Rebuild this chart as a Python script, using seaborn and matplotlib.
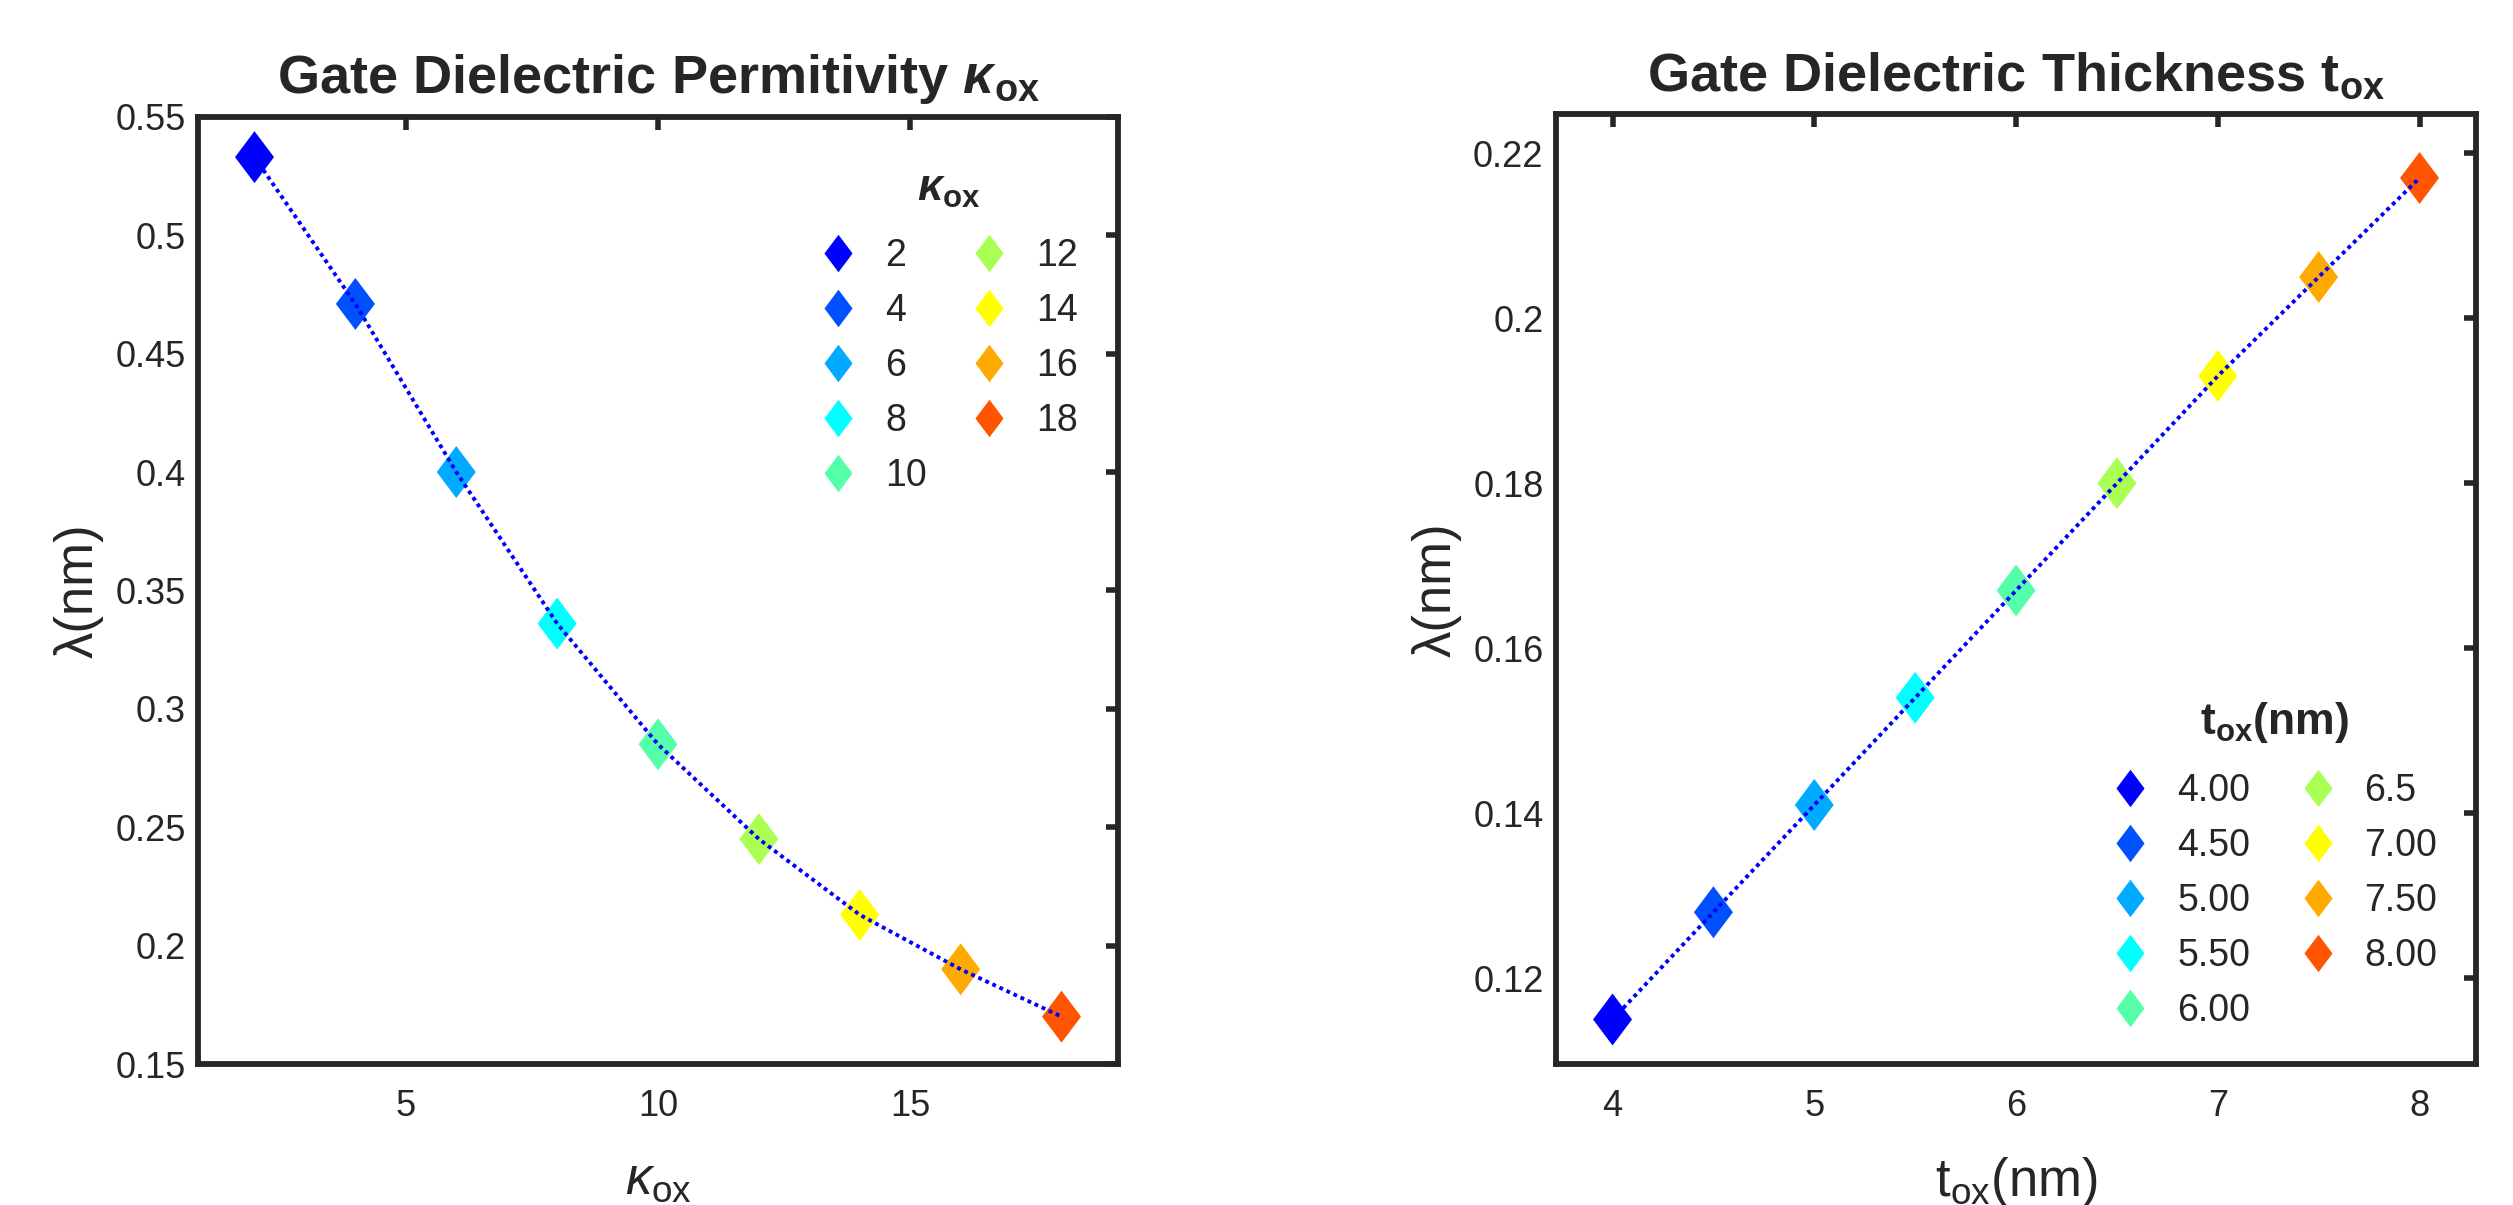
import matplotlib
matplotlib.use('Agg')
import matplotlib.pyplot as plt
from matplotlib.lines import Line2D
import seaborn as sns
import pandas as pd

# left panel: lambda vs gate dielectric permittivity
kappa_vals = [2, 4, 6, 8, 10, 12, 14, 16, 18]
kappa_lambda = [0.533, 0.471, 0.400, 0.336, 0.285, 0.245, 0.213, 0.190, 0.170]
kappa_labels = ["2", "4", "6", "8", "10", "12", "14", "16", "18"]

# right panel: lambda vs gate dielectric thickness
tox_vals = [4.0, 4.5, 5.0, 5.5, 6.0, 6.5, 7.0, 7.5, 8.0]
tox_lambda = [0.115, 0.128, 0.141, 0.154, 0.167, 0.180, 0.193, 0.205, 0.217]
tox_labels = ["4.00", "4.50", "5.00", "5.50", "6.00", "6.5", "7.00", "7.50", "8.00"]

point_colors = ["#0000FF", "#0050FF", "#00AAFF", "#00FFFF", "#55FFAA",
                "#AAFF55", "#FFFF00", "#FFAA00", "#FF5500"]

sns.set_style("white")
plt.rcParams['font.family'] = ['Liberation Sans', 'DejaVu Sans']
plt.rcParams['mathtext.fontset'] = 'custom'
plt.rcParams['mathtext.rm'] = 'Liberation Sans'
plt.rcParams['mathtext.it'] = 'Liberation Sans:italic'
plt.rcParams['mathtext.bf'] = 'Liberation Sans:bold'
plt.rcParams['mathtext.bfit'] = 'Liberation Sans:italic:bold'

DARK = "#262626"
diamond = [(-0.75, 0), (0, 1), (0.75, 0), (0, -1), (-0.75, 0)]

fig = plt.figure(figsize=(25.13, 12.05), dpi=100)
ax1 = fig.add_axes([0.0788, 0.117, 0.3661, 0.786])
ax2 = fig.add_axes([0.6192, 0.117, 0.3661, 0.788])


def draw_panel(ax, xs, ys, labels):
    df = pd.DataFrame({"x": xs, "y": ys, "label": labels})
    sns.scatterplot(data=df, x="x", y="y", hue="label", palette=point_colors,
                    marker=diamond, s=1400, edgecolor="none", legend=False,
                    ax=ax, zorder=2)
    sns.lineplot(data=df, x="x", y="y", color="#0000FF", lw=2.8,
                 linestyle=(0, (1, 1)), ax=ax, zorder=3, sort=False)
    for sp in ax.spines.values():
        sp.set_linewidth(4.2)
        sp.set_color(DARK)
    ax.tick_params(direction="in", length=9, width=4, color=DARK,
                   labelcolor=DARK, labelsize=26, top=True, right=True)
    ax.tick_params(axis="x", pad=18)
    ax.tick_params(axis="y", pad=9)


def add_legend(ax, labels, title, anchor, colsp):
    handles = [Line2D([], [], marker=diamond, ms=27, color=c, mec="none",
                      linestyle="none") for c in point_colors]
    leg = ax.legend(handles, labels, ncol=2, title=title, frameon=False,
                    loc="upper left", bbox_to_anchor=anchor,
                    bbox_transform=fig.transFigure, fontsize=27,
                    title_fontproperties={"weight": "bold", "size": 32},
                    borderpad=0, handlelength=1.0, handletextpad=0.75,
                    columnspacing=colsp, labelspacing=0.51)
    # extra room between the legend title and the entries
    leg._legend_box.sep = 20
    return leg


draw_panel(ax1, kappa_vals, kappa_lambda, kappa_labels)
ax1.set_xlim(0.88, 19.12)
ax1.set_ylim(0.15, 0.55)
ax1.set_xticks([5, 10, 15])
ax1.set_yticks([0.15, 0.2, 0.25, 0.3, 0.35, 0.4, 0.45, 0.5, 0.55])
ax1.set_yticklabels(["0.15", "0.2", "0.25", "0.3", "0.35", "0.4", "0.45", "0.5", "0.55"])
ax1.set_xlabel(r"$\kappa_{\mathrm{ox}}$", fontsize=38, color=DARK, labelpad=22)
ax1.set_ylabel("λ(nm)", fontsize=38, color=DARK, labelpad=8)
ax1.set_title(r"Gate Dielectric Permitivity $\mathbfit{\kappa}_{\mathbf{ox}}$",
              fontsize=39, fontweight="bold", pad=17)
add_legend(ax1, kappa_labels, r"$\mathbfit{\kappa}_{\mathbf{ox}}$",
           (0.3187, 0.8753), 1.15)

draw_panel(ax2, tox_vals, tox_lambda, tox_labels)
ax2.set_xlim(3.72, 8.28)
ax2.set_ylim(0.1096, 0.2247)
ax2.set_xticks([4, 5, 6, 7, 8])
ax2.set_yticks([0.12, 0.14, 0.16, 0.18, 0.2, 0.22])
ax2.set_yticklabels(["0.12", "0.14", "0.16", "0.18", "0.2", "0.22"])
ax2.set_xlabel(r"t$_{\mathrm{ox}}$(nm)", fontsize=38, color=DARK, labelpad=22)
ax2.set_ylabel("λ(nm)", fontsize=38, color=DARK, labelpad=8)
ax2.set_title(r"Gate Dielectric Thickness t$_{\mathbf{ox}}$",
              fontsize=39, fontweight="bold", pad=17)
add_legend(ax2, tox_labels, r"t$_{\mathbf{ox}}$(nm)", (0.8328, 0.4345), 1.3)

fig.savefig("out.png", dpi=100)
